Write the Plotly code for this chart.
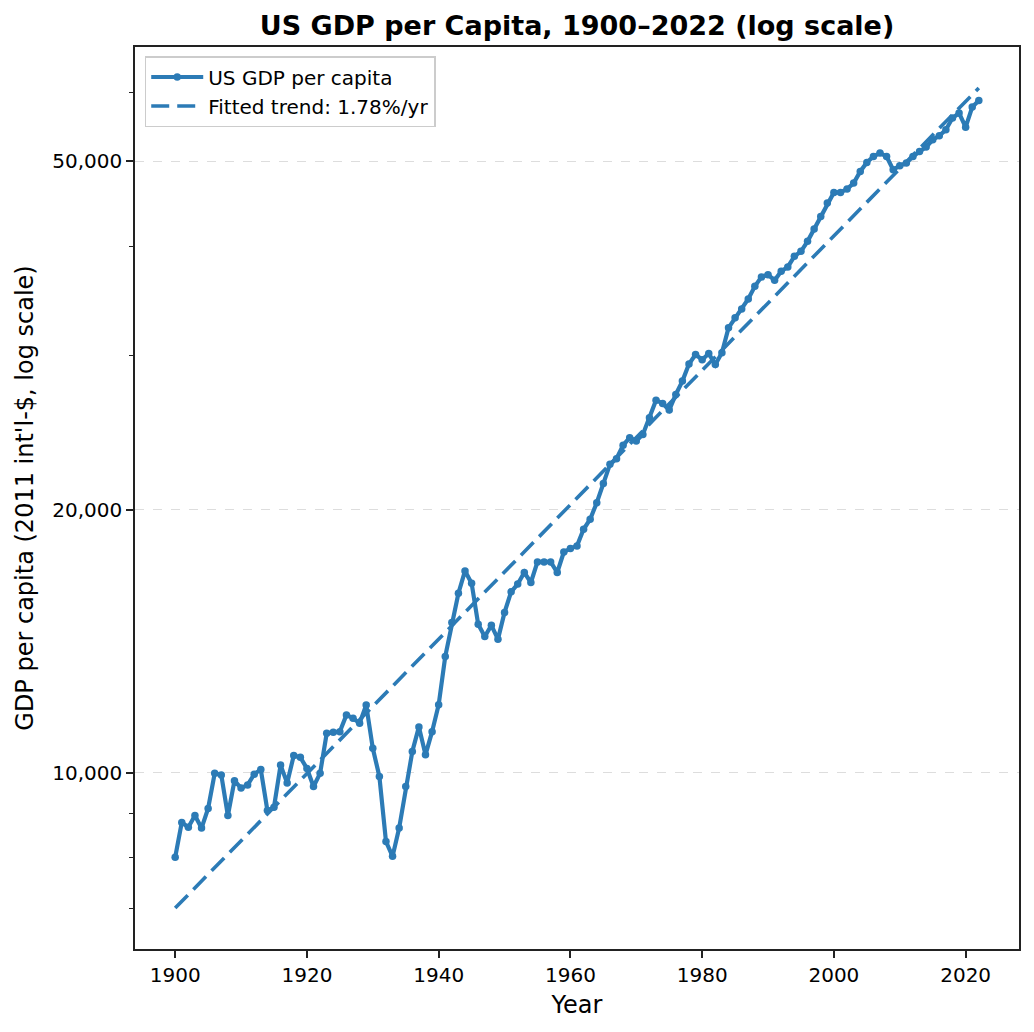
import numpy as np
import plotly.graph_objects as go

# US GDP per capita (2011 int'l-$)
years = list(range(1900, 2023))
gdp = [
    8010, 8780, 8670, 8940, 8650, 9110, 9990, 9950, 8940, 9800,        # 1900s
    9610, 9690, 9970, 10090, 9060, 9140, 10210, 9740, 10470, 10420,    # 1910s
    10120, 9650, 9990, 11100, 11130, 11150, 11650, 11550, 11400, 11960,  # 1920s
    10670, 9910, 8350, 8030, 8650, 9650, 10580, 11290, 10490, 11150,   # 1930s
    11970, 13590, 14860, 16050, 17020, 16480, 14790, 14320, 14750, 14220,  # 1940s
    15260, 16110, 16440, 16950, 16510, 17430, 17430, 17430, 16950, 17890,  # 1950s
    18050, 18180, 18990, 19500, 20370, 21430, 22530, 22870, 23690, 24170,  # 1960s
    23960, 24380, 25470, 26680, 26450, 25990, 27080, 28050, 29340, 30080,  # 1970s
    29670, 30160, 29300, 30220, 32270, 33130, 33920, 34820, 36000, 36900,  # 1980s
    37120, 36570, 37450, 37880, 38950, 39470, 40520, 41860, 43270, 44820,  # 1990s
    46090, 46090, 46500, 47240, 48700, 49870, 50660, 51120, 50660, 48920,  # 2000s
    49440, 49790, 50660, 51330, 51930, 52940, 53500, 54350, 56050, 56790,  # 2010s
    54730, 57690, 58700,                                               # 2020s
]

y_ticks = [10000, 20000, 50000]
y_tick_labels = ["10,000", "20,000", "50,000"]
y_minor_ticks = [7000, 8000, 9000, 30000, 40000, 60000]
x_ticks = [1900, 1920, 1940, 1960, 1980, 2000, 2020]

# log-linear fit for the trend line
yrs = np.array(years)
slope, intercept = np.polyfit(yrs, np.log(gdp), 1)
trend = np.exp(intercept + slope * yrs)

color = "#2c7bb6"
font = "DejaVu Sans"
axis_col = "#222222"

fig = go.Figure()
fig.add_trace(go.Scatter(
    x=years, y=gdp, mode="lines+markers", name="US GDP per capita",
    line=dict(color=color, width=4.2),
    marker=dict(color=color, size=7.5),
))
fig.add_trace(go.Scatter(
    x=years, y=trend, mode="lines", name="Fitted trend: 1.78%/yr",
    line=dict(color=color, width=3.6, dash="18px,8px"),
))

# matplotlib-like 5% margins
xmin, xmax = min(years), max(years)
xpad = 0.05 * (xmax - xmin)
all_y = np.log10(np.concatenate([gdp, trend]))
ylo, yhi = all_y.min(), all_y.max()
ypad = 0.05 * (yhi - ylo)

fig.update_layout(
    width=1034, height=1032,
    margin=dict(l=127, r=23, t=39, b=91),
    paper_bgcolor="white", plot_bgcolor="white",
    font=dict(family=font, size=20, color="black"),
    title=dict(
        text="<b>US GDP per Capita, 1900–2022 (log scale)</b>",
        x=(127 + 1011) / 2 / 1034, xanchor="center",
        y=1 - 18 / 1032, yanchor="middle",
        font=dict(family=font, size=27, color="black"),
    ),
    legend=dict(
        x=0.011, y=0.99, xanchor="left", yanchor="top",
        bgcolor="rgba(255,255,255,0.8)", bordercolor="#cccccc", borderwidth=1.5,
        font=dict(family=font, size=20, color="black"),
        itemwidth=52, tracegroupgap=0,
    ),
    showlegend=True,
)

fig.update_xaxes(
    range=[xmin - xpad, xmax + xpad],
    tickvals=x_ticks,
    ticks="outside", ticklen=7, tickwidth=1.6, tickcolor=axis_col,
    showline=True, linecolor=axis_col, linewidth=1.6, mirror=True,
    showgrid=False, zeroline=False,
    title=dict(text="Year", font=dict(family=font, size=24), standoff=10),
)
fig.update_yaxes(
    type="log",
    range=[ylo - ypad, yhi + ypad],
    tickvals=y_ticks, ticktext=y_tick_labels,
    ticks="outside", ticklen=7, tickwidth=1.6, tickcolor=axis_col,
    showline=True, linecolor=axis_col, linewidth=1.6, mirror=True,
    showgrid=True, gridcolor="#dddddd", griddash="dash", gridwidth=1.2,
    zeroline=False,
    minor=dict(tickvals=y_minor_ticks, ticks="outside", ticklen=4,
               tickwidth=1.2, tickcolor=axis_col, showgrid=False),
    title=dict(text="GDP per capita (2011 int'l-$, log scale)",
               font=dict(family=font, size=24), standoff=12),
)

fig.write_html("out.html")
